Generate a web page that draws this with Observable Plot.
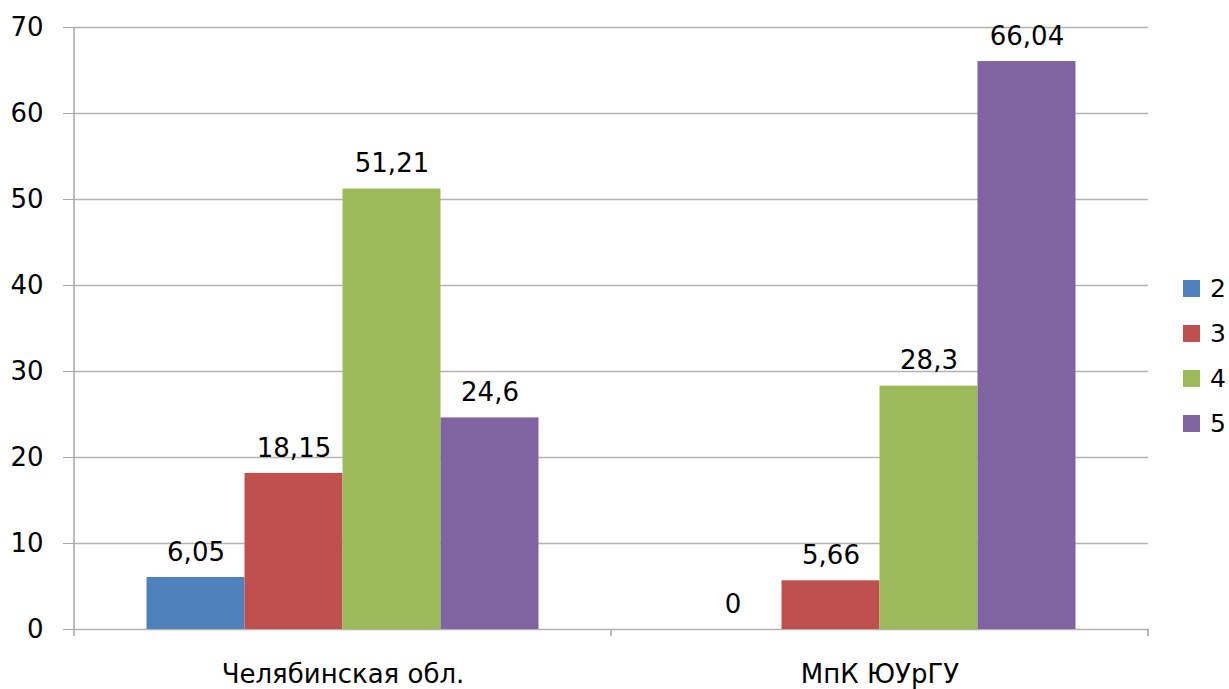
<!DOCTYPE html>
<html>
<head>
<meta charset="utf-8">
<script src="https://cdn.jsdelivr.net/npm/d3@7"></script>
<script src="https://cdn.jsdelivr.net/npm/@observablehq/plot@0.6"></script>
<style>
  body { margin: 0; background: #fff; font-family: "DejaVu Sans", sans-serif; }
  #wrap { position: relative; width: 1229px; height: 689px; }
  #legend { position: absolute; left: 1183px; top: 266px; }
  .item { display: flex; align-items: center; height: 45px; font-size: 25px; color: #000; }
  .sw { width: 17px; height: 17px; margin-right: 10px; }
</style>
</head>
<body>
<div id="wrap"><div id="legend"></div></div>
<script>
const groups = ["Челябинская обл.", "МпК ЮУрГУ"];
const series = ["2", "3", "4", "5"];
const colors = ["#4F81BD", "#C0504D", "#9BBB59", "#8064A2"];
const valuesChel = [6.05, 18.15, 51.21, 24.6];
const valuesMpk = [0, 5.66, 28.3, 66.04];
const yTicks = [0, 10, 20, 30, 40, 50, 60, 70];

const rows = [];
series.forEach((s, i) => {
  rows.push({group: groups[0], series: s, value: valuesChel[i]});
  rows.push({group: groups[1], series: s, value: valuesMpk[i]});
});
const fmt = v => String(v).replace(".", ",");

const chart = Plot.plot({
  width: 1229,
  height: 689,
  marginLeft: 74,
  marginRight: 81,
  marginTop: 27,
  marginBottom: 60,
  style: {fontFamily: "DejaVu Sans", fontSize: "25px", color: "#000", background: "#fff", overflow: "visible"},
  fx: {domain: groups, padding: 0, label: null},
  x: {domain: series, paddingInner: 0, paddingOuter: 0.74, axis: null, round: false},
  y: {domain: [0, 70], axis: null},
  color: {domain: series, range: colors},
  marks: [
    Plot.ruleY(yTicks, {stroke: "#b3b3b3", strokeWidth: 1.5}),
    Plot.barY(rows, {fx: "group", x: "series", y: "value", fill: "series"}),
    Plot.text(rows, {fx: "group", x: "series", y: "value", text: d => fmt(d.value), dy: -25, fontSize: 26, fill: "#000"}),
    Plot.axisY({ticks: yTicks, tickSize: 11, tickPadding: 20, stroke: "#a6a6a6", fill: "#000", fontSize: 26, label: null}),
    Plot.axisFx({anchor: "bottom", tickSize: 0, tickPadding: 35, fontSize: 26, label: null, fill: "#000"})
  ]
});

// axis line and facet boundary ticks, positioned from the chart's scales
const fxS = chart.scale("fx");
const yS = chart.scale("y");
const svg = d3.select(chart);
const y0 = yS.apply(0), yTop = yS.apply(70);
const left = fxS.apply(groups[0]);
svg.append("line").attr("x1", left).attr("x2", left).attr("y1", yTop).attr("y2", y0 + 7)
  .attr("stroke", "#a6a6a6").attr("stroke-width", 1.5);
groups.forEach(g => {
  const xe = fxS.apply(g) + fxS.bandwidth;
  svg.append("line").attr("x1", xe).attr("x2", xe).attr("y1", y0).attr("y2", y0 + 7)
    .attr("stroke", "#a6a6a6").attr("stroke-width", 1.5);
});

const wrap = document.getElementById("wrap");
wrap.insertBefore(chart, wrap.firstChild);

const legend = d3.select("#legend");
series.forEach((s, i) => {
  const it = legend.append("div").attr("class", "item");
  it.append("div").attr("class", "sw").style("background", colors[i]);
  it.append("span").text(s);
});
</script>
</body>
</html>
